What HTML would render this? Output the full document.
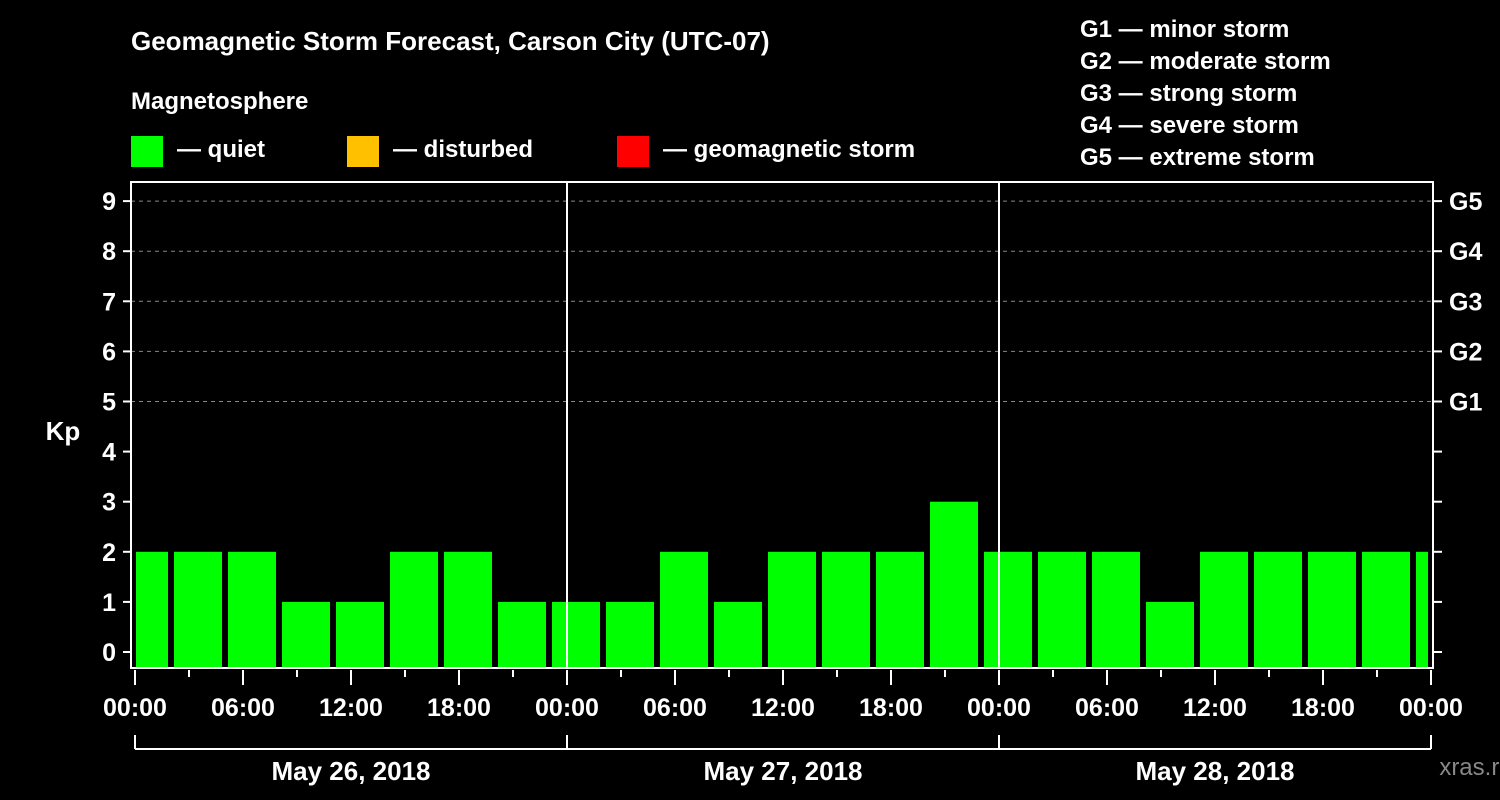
<!DOCTYPE html>
<html><head><meta charset="utf-8"><style>
html,body{margin:0;padding:0;background:#000;}
svg{display:block;font-family:"Liberation Sans",Arial,sans-serif;font-weight:bold;}
</style></head><body>
<svg id="chart" width="1500" height="800" viewBox="0 0 1500 800">
<rect width="1500" height="800" fill="#000"/>
<text x="131" y="50" fill="#fff" font-size="26">Geomagnetic Storm Forecast, Carson City (UTC-07)</text>
<text x="131" y="109" fill="#fff" font-size="24">Magnetosphere</text>
<g><rect x="131" y="136" width="32" height="31" fill="#00ff00"/><text x="177" y="157" fill="#fff" font-size="24">— quiet</text></g>
<g><rect x="347" y="136" width="32" height="31" fill="#ffc000"/><text x="393" y="157" fill="#fff" font-size="24">— disturbed</text></g>
<g><rect x="617" y="136" width="32" height="31" fill="#ff0000"/><text x="663" y="157" fill="#fff" font-size="24">— geomagnetic storm</text></g>
<g fill="#fff" font-size="24">
<text x="1080" y="37">G1 — minor storm</text>
<text x="1080" y="69">G2 — moderate storm</text>
<text x="1080" y="101">G3 — strong storm</text>
<text x="1080" y="133">G4 — severe storm</text>
<text x="1080" y="165">G5 — extreme storm</text>
</g>
<text x="63" y="440" fill="#fff" font-size="26" text-anchor="middle">Kp</text>
<text x="1476" y="775" fill="#888" font-size="24" font-weight="normal" text-anchor="middle">xras.ru</text>
<g id="plot"></g>
</svg>
<script>
const kpValues = [2,2,2,1,1,2,2,1,1,1,2,1,2,2,2,3,2,2,2,1,2,2,2,2,2];
const yTicks = [0,1,2,3,4,5,6,7,8,9];
const gLabels = ["G1","G2","G3","G4","G5"];
const timeLabels = ["00:00","06:00","12:00","18:00","00:00","06:00","12:00","18:00","00:00","06:00","12:00","18:00","00:00"];
const dayLabels = ["May 26, 2018","May 27, 2018","May 28, 2018"];
const firstBarHour = -1; // bars are 3h blocks offset by UTC-7

const NS="http://www.w3.org/2000/svg";
const g=document.getElementById('plot');
const X0=135, PXH=18, Y0=652, PXV=50.1, TOP=182, BOT=668, L=131, R=1433;
const xs=h=>X0+h*PXH, ys=v=>Y0-v*PXV;
function mk(t,a,p){const e=document.createElementNS(NS,t);for(const k in a)e.setAttribute(k,a[k]);(p||g).appendChild(e);return e;}
// grid
for(let v=5;v<=9;v++){const e=mk('line',{x1:L,x2:R,y1:ys(v),y2:ys(v),stroke:'#888','stroke-dasharray':'4,4','stroke-width':1});

}
// bars
const clip=mk('clipPath',{id:'pc'});mk('rect',{x:136,y:TOP,width:1292,height:BOT-TOP},clip);
kpValues.forEach((v,i)=>{const h0=firstBarHour+i*3;
const col=v>=5?'#ff0000':(v>=4?'#ffc000':'#00ff00');
const e=mk('rect',{x:xs(h0)+3,y:ys(v),width:3*PXH-6,height:BOT-ys(v),fill:col,'clip-path':'url(#pc)'});

});
// day separators
for(let d=1;d<=2;d++){const e=mk('line',{x1:xs(24*d),x2:xs(24*d),y1:TOP,y2:BOT,stroke:'#fff','stroke-width':2});

}
// frame
const fr=mk('rect',{x:L,y:TOP,width:R-L,height:BOT-TOP,fill:'none',stroke:'#fff','stroke-width':2});


// y ticks
yTicks.forEach(v=>{const y=ys(v);
mk('line',{x1:123,x2:L,y1:y,y2:y,stroke:'#fff','stroke-width':2});
mk('line',{x1:R,x2:1442,y1:y,y2:y,stroke:'#fff','stroke-width':2});
const t=mk('text',{x:116,y:y+9,fill:'#fff','font-size':25,'text-anchor':'end'});t.textContent=v;

});
gLabels.forEach((s,i)=>{const t=mk('text',{x:1449,y:ys(5+i)+9,fill:'#fff','font-size':25});t.textContent=s;

});
// x ticks
for(let h=0;h<=72;h+=3){const maj=h%6===0;mk('line',{x1:xs(h),x2:xs(h),y1:BOT+2,y2:maj?685:677,stroke:'#fff','stroke-width':2});}
timeLabels.forEach((s,i)=>{const t=mk('text',{x:xs(i*6),y:716,fill:'#fff','font-size':25,'text-anchor':'middle'});t.textContent=s;

});
// day bracket
mk('line',{x1:xs(0),x2:xs(72),y1:749,y2:749,stroke:'#fff','stroke-width':2});
for(let d=0;d<=3;d++)mk('line',{x1:xs(24*d),x2:xs(24*d),y1:735,y2:749,stroke:'#fff','stroke-width':2});
dayLabels.forEach((s,i)=>{const t=mk('text',{x:xs(24*i+12),y:780,fill:'#fff','font-size':26,'text-anchor':'middle'});t.textContent=s;

});
</script>
</body></html>
